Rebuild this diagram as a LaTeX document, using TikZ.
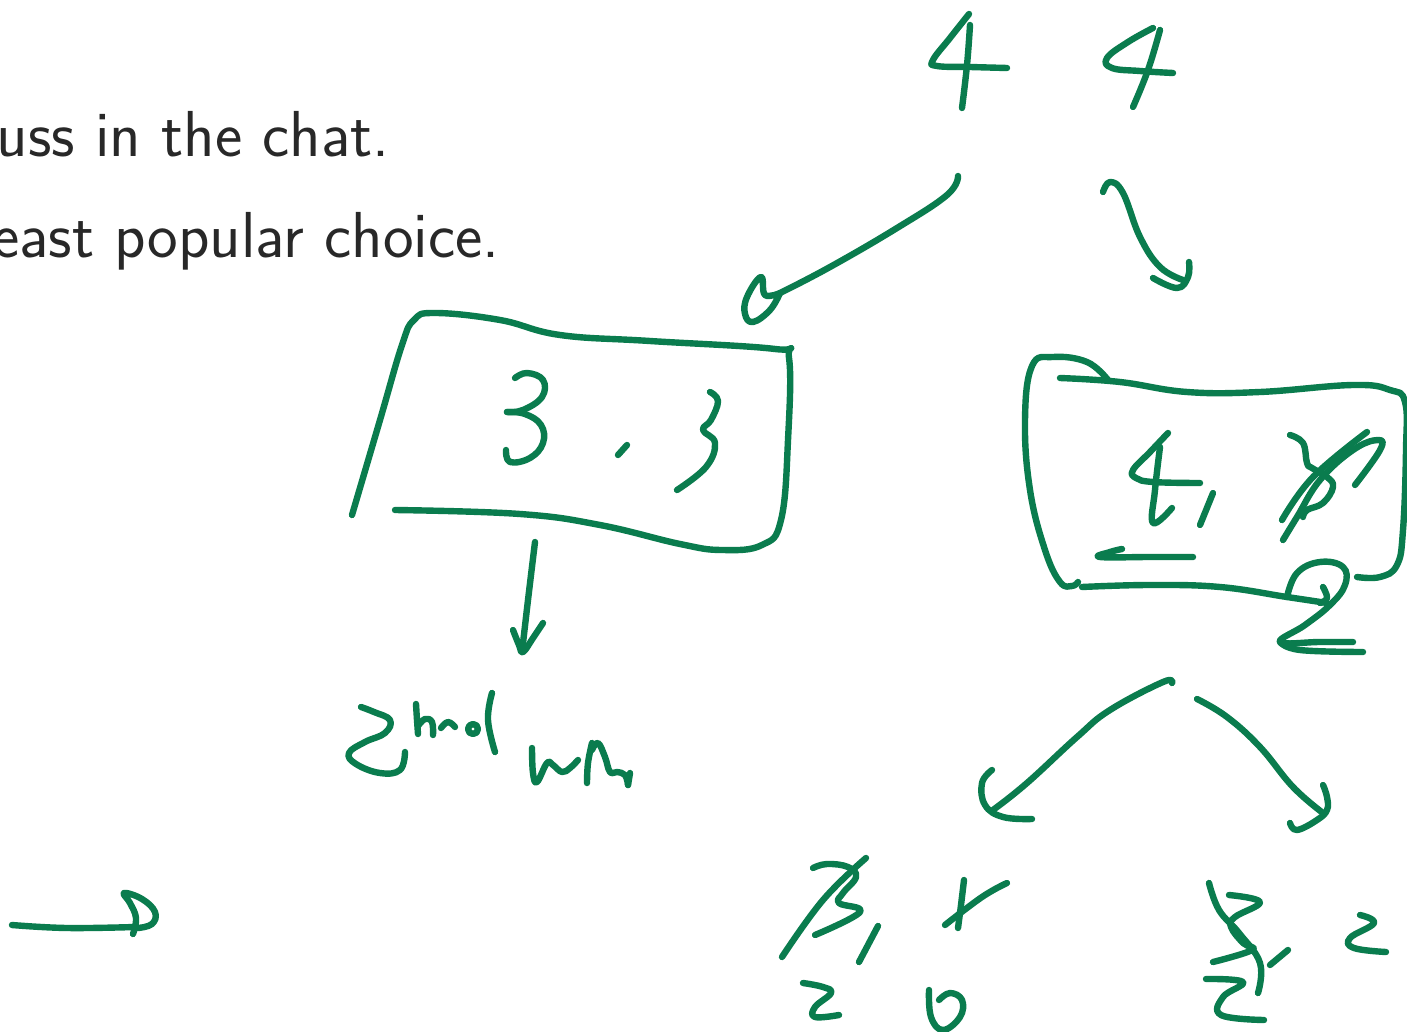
\documentclass[tikz,border=0pt]{standalone}
\usepackage{fontspec}
\definecolor{inkgreen}{RGB}{10,124,78}
\definecolor{slidetext}{RGB}{40,40,40}
\tikzset{
  ink/.style={draw=inkgreen, line width=3.2pt, line cap=round, line join=round},
  slideline/.style={text=slidetext, font=\fontsize{32.5}{38}\sffamily, inner sep=0pt}
}
% one freehand pen stroke through the given points
\newcommand\penline[1]{\draw[ink] plot[smooth, tension=0.7] coordinates {#1};}
\begin{document}
\begin{tikzpicture}[x=0.5pt, y=-0.5pt]
\useasboundingbox (0,0) rectangle (1407,1032);
\clip (0,0) rectangle (1407,1032);
\fill[white] (0,0) rectangle (1407,1032);

% slide text, cut by the left edge
\node[slideline, anchor=base east] (line1) at (390,157) {uss in the chat.};
\node[slideline, anchor=base east] (line2) at (500,257) {east popular choice.};

% top: 4 4
\penline{(969,14) (950,38) (933,60) (937,66) (970,67) (1007,68)}
\penline{(970,25) (967,65) (962,108)}
\penline{(1153,28) (1128,42) (1107,58) (1112,68) (1140,71) (1173,73)}
\penline{(1160,30) (1148,70) (1133,107)}

% arrow to the left box
\penline{(958,176) (947,195) (897,228) (830,267) (780,293)}
\penline{(780,293) (765,295) (761,277) (747,297) (745,314) (753,322) (770,310) (780,293)}

% arrow to the right box
\penline{(1103,192) (1110,182) (1123,193) (1140,237) (1160,267) (1183,280)}
\penline{(1153,278) (1177,288) (1188,277) (1189,262)}

% left box: 3 , 3
\penline{(352,515) (380,420) (402,345) (414,320) (435,313) (500,320) (560,335) (650,341) (775,349) (789,358) (788,440) (781,520) (762,545) (722,550) (680,544) (600,525) (520,514) (395,510)}
\penline{(515,378) (527,373) (543,380) (542,397) (523,410) (507,412)}
\penline{(507,412) (525,414) (541,425) (543,443) (530,458) (510,462) (506,450)}
\penline{(627,445) (618,455)}
\penline{(710,392) (718,401) (711,420) (703,430) (715,443) (706,467) (677,490)}

% down arrow and "2nd win"
\penline{(535,542) (528,600) (522,652)}
\penline{(513,630) (519,645) (523,652) (533,638) (543,623)}
\penline{(361,707) (374,712) (390,720) (385,733) (365,742) (349,753) (356,764) (380,773) (400,770) (405,752)}
\penline{(416,704) (417,720) (418,734)}
\penline{(418,726) (425,719) (432,722) (433,735)}
\penline{(441,728) (448,722) (455,727)}
\draw[ink] (473,729) circle[radius=5];
\penline{(492,693) (488,720) (495,752)}
\penline{(532,748) (533,773) (537,782) (547,763) (553,765) (562,772) (570,768) (578,760)}
\penline{(592,743) (588,763) (587,783)}
\penline{(592,750) (598,743) (605,757) (610,772) (617,772) (625,775) (628,785)}
\penline{(630,773) (628,785)}

% right box: 4 , 3 (crossed out) and 2
\penline{(1108,380) (1087,362) (1053,357) (1032,366) (1025,420) (1030,490) (1045,550) (1060,582) (1072,586) (1078,582)}
\penline{(1060,378) (1120,382) (1187,392) (1260,392) (1353,385) (1390,390) (1405,402) (1406,450) (1403,530) (1397,565) (1380,577) (1357,577)}
\penline{(1082,587) (1150,585) (1220,587) (1287,597) (1327,603)}
\penline{(1168,433) (1150,452) (1133,470) (1136,478) (1153,482) (1200,483)}
\penline{(1160,447) (1155,490) (1153,523) (1172,508)}
\penline{(1213,493) (1200,525)}
\penline{(1122,549) (1110,552) (1100,557) (1150,557) (1193,557)}
\penline{(1290,435) (1303,443) (1307,463) (1312,468) (1327,477) (1333,487) (1323,503) (1307,510) (1303,517)}
\penline{(1282,520) (1313,477) (1367,432)}
\penline{(1283,540) (1297,517) (1320,480) (1353,450) (1378,440) (1380,450) (1355,485)}
\penline{(1287,597) (1297,573) (1320,562) (1343,567) (1345,585) (1330,605) (1305,625) (1280,642) (1320,642) (1353,642)}
\penline{(1280,642) (1300,650) (1363,652)}
\penline{(1323,587) (1327,598) (1320,603)}

% arrows down from the right box
\penline{(1172,683) (1163,682) (1110,710) (1077,737) (1027,783) (993,810)}
\penline{(992,770) (982,783) (985,805) (1003,817) (1032,819)}
\penline{(1197,699) (1227,717) (1260,747) (1293,787) (1323,813)}
\penline{(1290,823) (1297,830) (1317,820) (1327,810) (1327,797) (1323,785)}

% bottom left group: 3 , 1 (crossed) over 2 0
\penline{(813,868) (827,864) (848,867) (856,877) (843,893) (839,903) (860,912) (815,935)}
\penline{(782,957) (823,900) (866,858)}
\penline{(878,926) (859,962)}
\penline{(964,880) (961,905) (958,928)}
\penline{(945,925) (982,897) (1007,883)}
\penline{(803,983) (823,987) (831,993) (815,1007) (815,1017) (839,1015)}
\penline{(929,990) (931,1017) (943,1030) (960,1017) (962,1000) (950,993) (939,1000)}

% bottom right group: 3 , 2 over 2
\penline{(1209,883) (1219,910) (1239,933) (1260,963) (1258,993)}
\penline{(1229,895) (1260,902) (1235,917) (1231,927) (1243,943) (1252,950) (1213,962)}
\penline{(1288,950) (1270,965)}
\penline{(1206,979) (1243,982) (1223,997) (1221,1015) (1264,1020)}
\penline{(1360,915) (1374,923) (1350,938) (1354,948) (1386,952)}

% arrow at the bottom left
\penline{(12,925) (67,928) (135,927)}
\penline{(133,934) (136,918) (130,903) (124,893) (142,899) (155,912) (152,924) (138,928)}
\end{tikzpicture}
\end{document}
